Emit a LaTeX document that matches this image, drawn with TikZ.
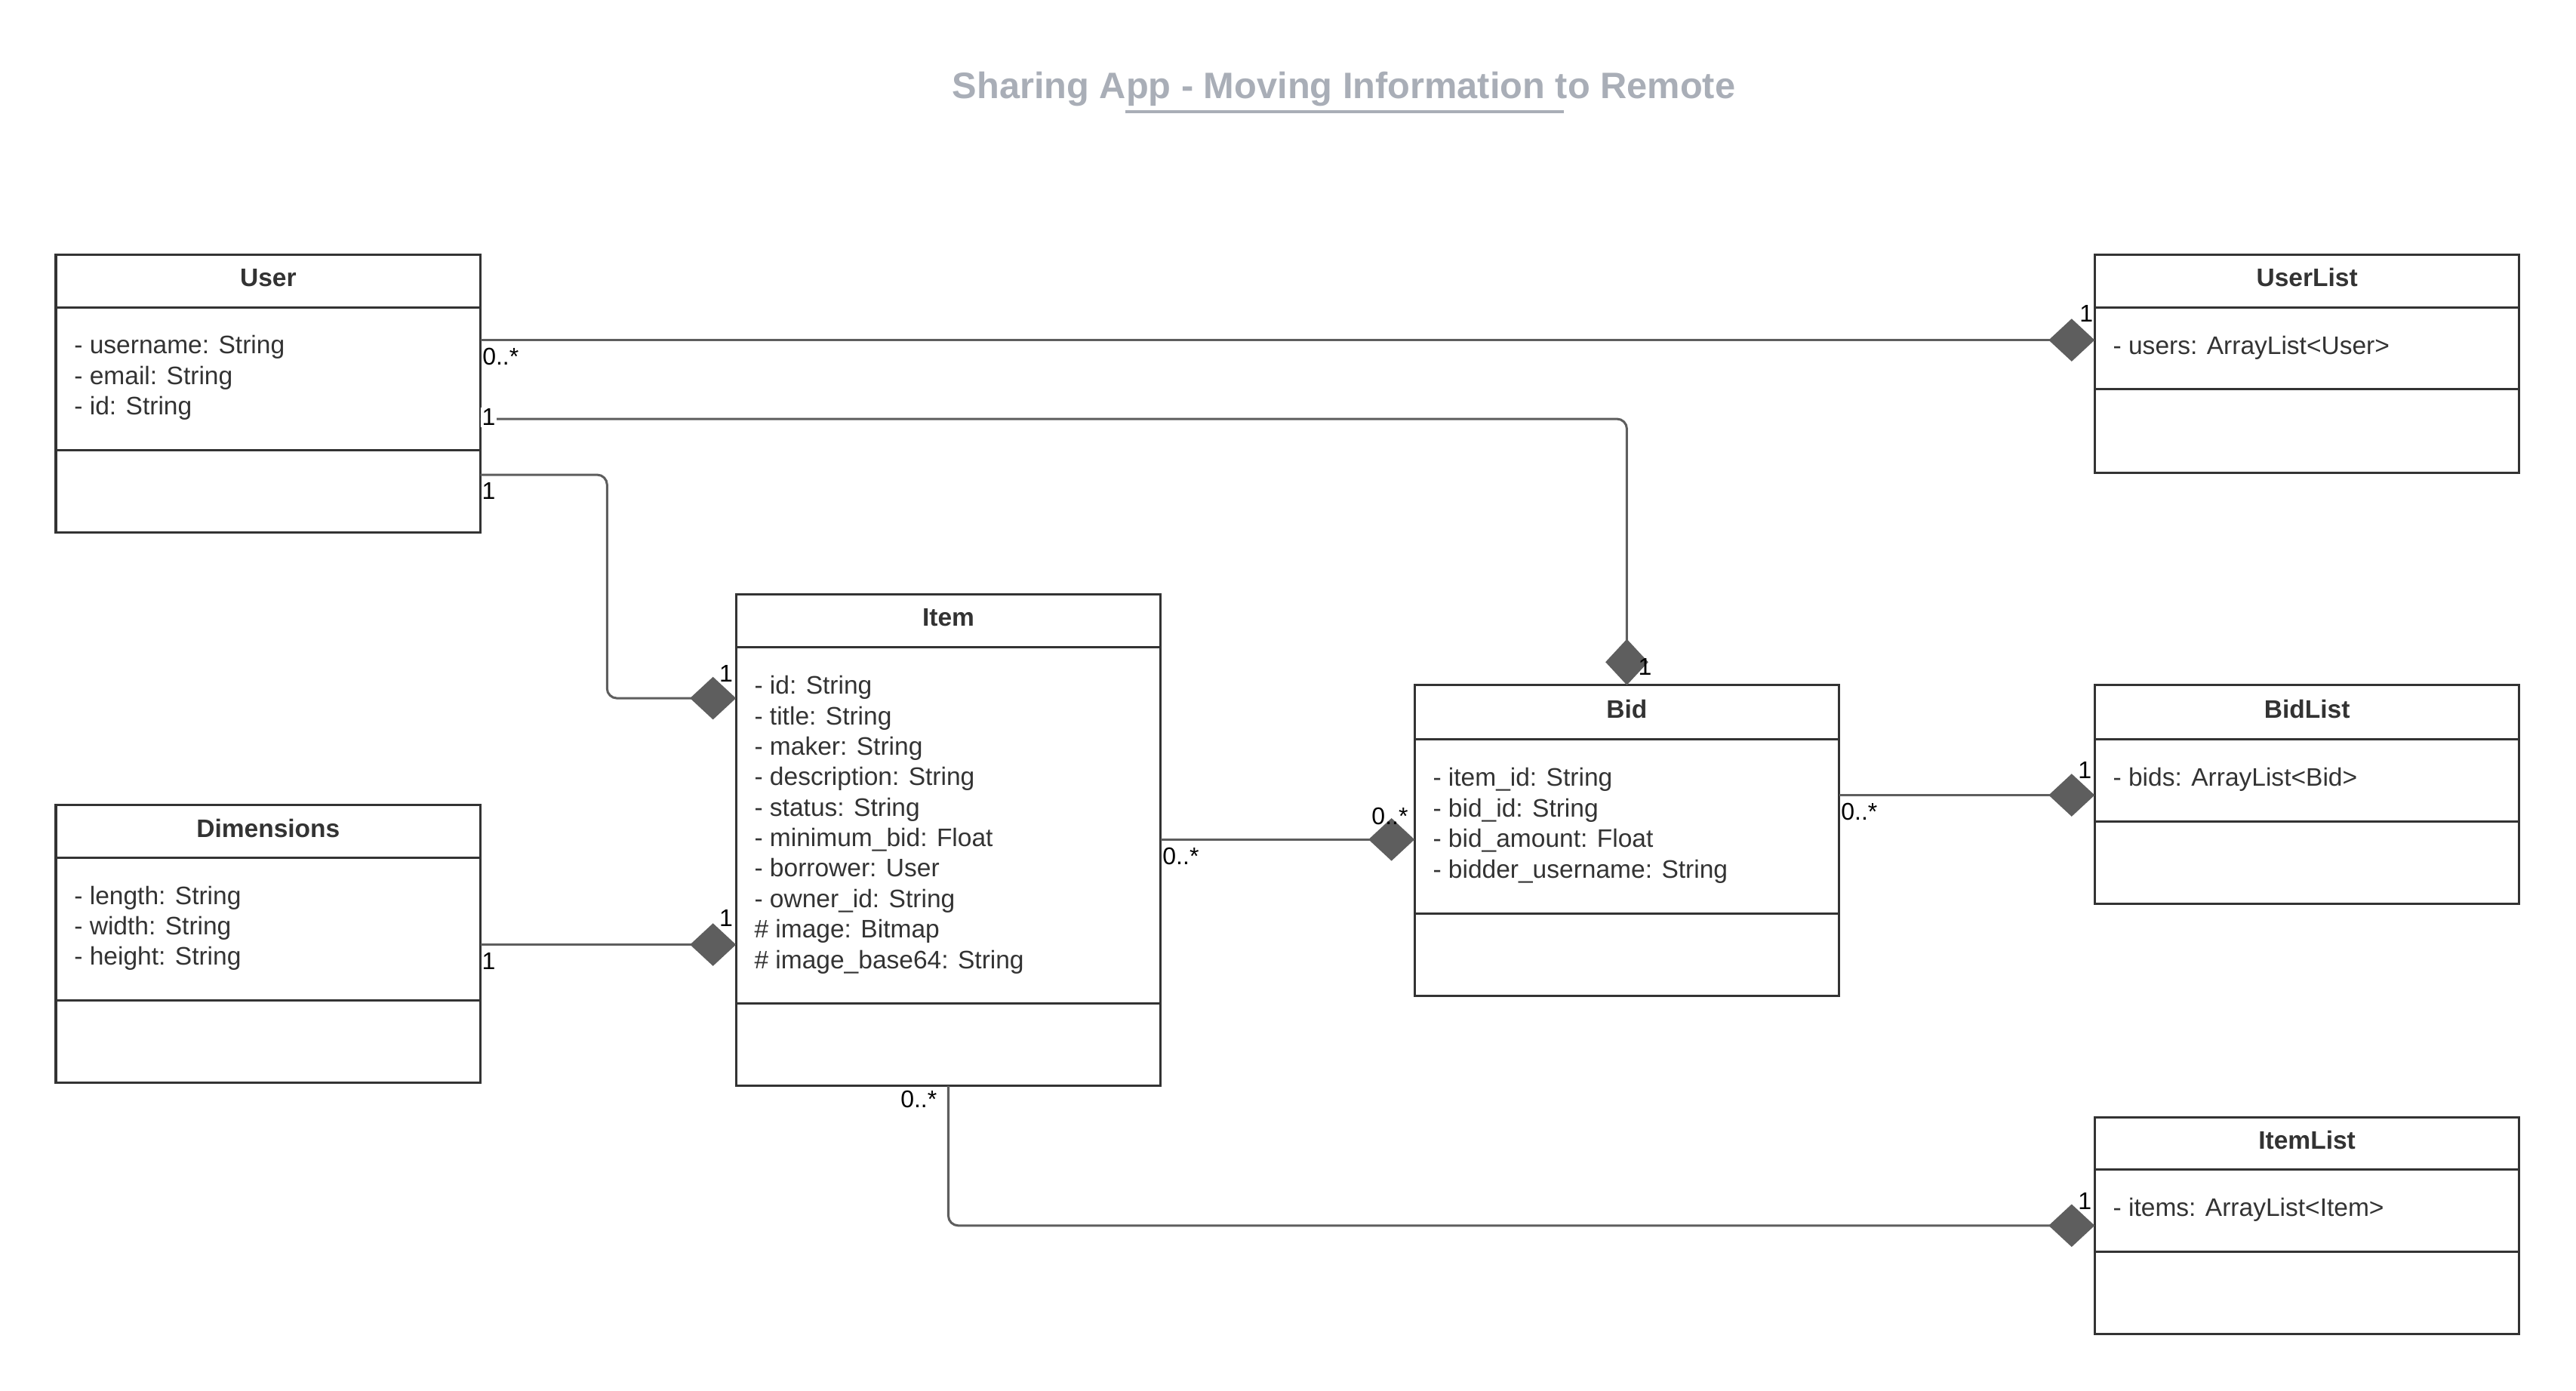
\documentclass[tikz,border=0pt]{standalone}
\usepackage{fontspec}
\setmainfont{Liberation Sans}
\usetikzlibrary{arrows.meta}
\definecolor{boxc}{HTML}{333333}
\definecolor{txtc}{HTML}{333333}
\definecolor{linec}{HTML}{5E5E5E}
\definecolor{titlec}{HTML}{A9AEB7}
\newcommand\umlclass[8]{%
  \node[cbox, minimum height=#4pt] (#1H) at (#2,-#3) {};
  \node[cbox, minimum height=#5pt] (#1A) at (#1H.south west) {};
  \node[cbox, minimum height=#6pt] (#1M) at (#1A.south west) {};
  \node[cname] (#1N) at ([yshift=2pt]#1H.center) {#7};
  \node[cattr] (#1T) at ([xshift=11pt,yshift=0.5pt]#1A.west) {#8};
}
\begin{document}
\begin{tikzpicture}[x=1pt,y=1pt,
  cbox/.style={draw=boxc, line width=1.4pt, fill=white, minimum width=258.5pt, inner sep=0pt, outer sep=0pt, anchor=north west},
  cname/.style={font=\fontsize{15.4}{18.5}\selectfont\bfseries, text=txtc, inner sep=0pt},
  cattr/.style={font=\fontsize{15.4}{18.55}\selectfont, text=txtc, align=left, anchor=west, inner sep=0pt},
  conn/.style={draw=linec, line width=1.4pt, rounded corners=6pt},
  comp/.style={conn, -{Diamond[length=28pt,width=26pt,fill=linec]}},
  lbl/.style={font=\fontsize{14.7}{17}\selectfont, text=black, inner sep=0pt},
]
\useasboundingbox (0,0) rectangle (1568,-846.7);

% title
\node[font=\fontsize{22.4}{26}\selectfont\bfseries, text=titlec, inner sep=0pt] (title) at (818,-54) {Sharing App - Moving Information to Remote};
\draw[titlec, line width=2pt] (685,-68) -- (952,-68);

% classes
\umlclass{user}{34}{155}{32}{87}{50}{User}{- username: String\\- email: String\\- id: String}
\umlclass{ul}{1275}{155}{32}{50}{51}{UserList}{- users: ArrayList<User>}
\umlclass{item}{448}{362}{32}{217}{50}{Item}{- id: String\\- title: String\\- maker: String\\- description: String\\- status: String\\- minimum\_bid: Float\\- borrower: User\\- owner\_id: String\\\# image: Bitmap\\\# image\_base64: String}
\umlclass{dim}{34}{490}{32}{87}{50}{Dimensions}{- length: String\\- width: String\\- height: String}
\umlclass{bid}{861}{417}{33}{106}{50}{Bid}{- item\_id: String\\- bid\_id: String\\- bid\_amount: Float\\- bidder\_username: String}
\umlclass{bl}{1275}{417}{33}{50}{50}{BidList}{- bids: ArrayList<Bid>}
\umlclass{il}{1275}{680}{32}{50}{50}{ItemList}{- items: ArrayList<Item>}

% connector end points
\coordinate (c1s) at ([yshift=-20pt]userA.north east);
\coordinate (c1e) at ([yshift=-20pt]ulA.north west);
\coordinate (c2s) at ([yshift=-68pt]userA.north east);
\coordinate (c3s) at ([yshift=-15pt]userM.north east);
\coordinate (c3e) at ([yshift=-31pt]itemA.north west);
\coordinate (c4s) at ([yshift=-53pt]dimA.north east);
\coordinate (c4e) at ([yshift=-181pt]itemA.north west);
\coordinate (c5s) at ([yshift=-117pt]itemA.north east);
\coordinate (c5e) at ([yshift=-61pt]bidA.north west);
\coordinate (c6s) at ([yshift=-34pt]bidA.north east);
\coordinate (c6e) at ([yshift=-34pt]blA.north west);
\coordinate (c7e) at ([yshift=-34pt]ilA.north west);

% connectors
\draw[comp] (c1s) -- (c1e);
\draw[comp] (c2s) -| (bidH.north);
\draw[comp] (c3s) -- ++(77pt,0) |- (c3e);
\draw[comp] (c4s) -- (c4e);
\draw[comp] (c5s) -- (c5e);
\draw[comp] (c6s) -- (c6e);
\draw[comp] (itemM.south) |- (c7e);

% multiplicities
\node[lbl, anchor=west] at ([xshift=1pt,yshift=-10pt]c1s) {0..*};
\node[lbl] at ([xshift=-5pt,yshift=16pt]c1e) {1};
\node[lbl, fill=white, inner sep=0.8pt] at ([xshift=5pt,yshift=1pt]c2s) {1};
\node[lbl] at ([xshift=11pt,yshift=11pt]bidH.north) {1};
\node[lbl] at ([xshift=5pt,yshift=-10pt]c3s) {1};
\node[lbl] at ([xshift=-6pt,yshift=15pt]c3e) {1};
\node[lbl] at ([xshift=5pt,yshift=-10pt]c4s) {1};
\node[lbl] at ([xshift=-6pt,yshift=16pt]c4e) {1};
\node[lbl, anchor=west] at ([xshift=1pt,yshift=-10pt]c5s) {0..*};
\node[lbl] at ([xshift=-15pt,yshift=14pt]c5e) {0..*};
\node[lbl, anchor=west] at ([xshift=1pt,yshift=-10pt]c6s) {0..*};
\node[lbl] at ([xshift=-6pt,yshift=15pt]c6e) {1};
\node[lbl] at ([xshift=-18pt,yshift=-8pt]itemM.south) {0..*};
\node[lbl] at ([xshift=-6pt,yshift=15pt]c7e) {1};
\end{tikzpicture}
\end{document}
